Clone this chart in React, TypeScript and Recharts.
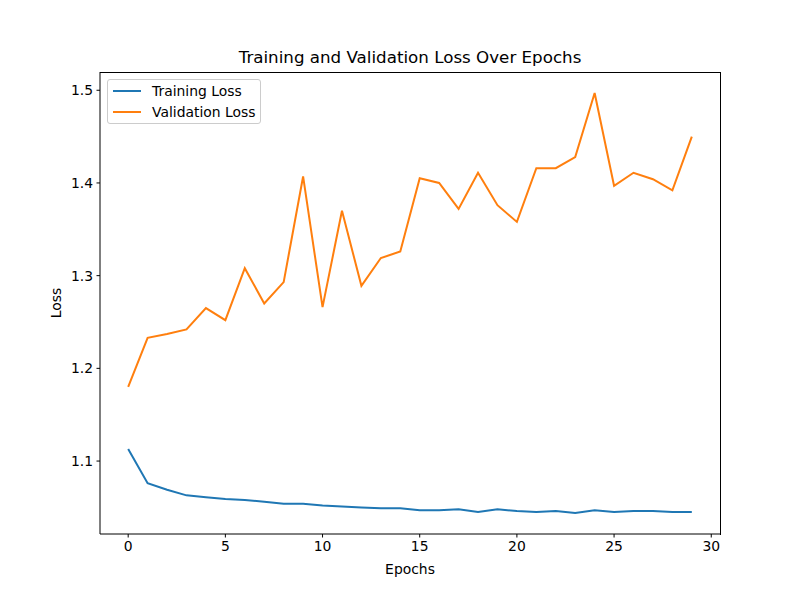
import { LineChart, Line, XAxis, YAxis } from 'recharts';

const epochs = Array.from({ length: 30 }, (_, i) => i);

const trainingLoss = [
  1.113, 1.076, 1.069, 1.063, 1.061, 1.059, 1.058, 1.056, 1.054, 1.054,
  1.052, 1.051, 1.050, 1.049, 1.049, 1.047, 1.047, 1.048, 1.045, 1.048,
  1.046, 1.045, 1.046, 1.044, 1.047, 1.045, 1.046, 1.046, 1.045, 1.045,
];

const validationLoss = [
  1.180, 1.233, 1.237, 1.242, 1.265, 1.252, 1.308, 1.270, 1.293, 1.407,
  1.266, 1.370, 1.289, 1.319, 1.326, 1.405, 1.400, 1.372, 1.411, 1.376,
  1.358, 1.416, 1.416, 1.428, 1.497, 1.397, 1.411, 1.404, 1.392, 1.450,
];

const xTicks = [0, 5, 10, 15, 20, 25, 30];
const yTicks = [1.1, 1.2, 1.3, 1.4, 1.5];

const data = epochs.map((e, i) => ({
  epoch: e,
  train: trainingLoss[i],
  val: validationLoss[i],
}));

const FONT = '"DejaVu Sans", sans-serif';
const tickStyle = { fill: '#000', fontSize: 13.9, fontFamily: FONT };

const legendItems = [
  { label: 'Training Loss', color: '#1f77b4' },
  { label: 'Validation Loss', color: '#ff7f0e' },
];

function LegendBox() {
  return (
    <div
      style={{
        position: 'absolute',
        left: 107,
        top: 79,
        border: '1px solid #cccccc',
        borderRadius: 3,
        background: 'rgba(255,255,255,0.8)',
        padding: '0px 5px 1px 5px',
        fontFamily: FONT,
        fontSize: 13.9,
        color: '#000',
      }}
    >
      {legendItems.map(it => (
        <div key={it.label} style={{ display: 'flex', alignItems: 'center', height: 21 }}>
          <span style={{ display: 'inline-block', width: 28, height: 2, background: it.color, marginRight: 11 }} />
          <span>{it.label}</span>
        </div>
      ))}
    </div>
  );
}

export default function App() {
  return (
    <div style={{ position: 'absolute', left: 0, top: 0, width: 800, height: 600, background: '#fff' }}>
      <LineChart
        width={800}
        height={600}
        data={data}
        margin={{ top: 72, right: 80, bottom: 36, left: 40 }}
      >
        <XAxis
          dataKey="epoch"
          type="number"
          domain={[-1.45, 30.45]}
          ticks={xTicks}
          allowDataOverflow
          height={30}
          tickSize={3.5}
          tickMargin={3.5}
          tick={tickStyle}
          tickLine={{ stroke: '#000' }}
          axisLine={{ stroke: '#000' }}
        />
        <YAxis
          type="number"
          domain={[1.0213, 1.5197]}
          ticks={yTicks}
          allowDataOverflow
          width={60}
          tickSize={3.5}
          tickMargin={3.5}
          tick={tickStyle}
          tickFormatter={(v: number) => v.toFixed(1)}
          tickLine={{ stroke: '#000' }}
          axisLine={{ stroke: '#000' }}
        />
        <Line
          dataKey="train"
          name="Training Loss"
          stroke="#1f77b4"
          strokeWidth={2}
          dot={false}
          activeDot={false}
          isAnimationActive={false}
        />
        <Line
          dataKey="val"
          name="Validation Loss"
          stroke="#ff7f0e"
          strokeWidth={2}
          dot={false}
          activeDot={false}
          isAnimationActive={false}
        />
      </LineChart>
      {/* top and right spines */}
      <div
        style={{
          position: 'absolute', left: 100, top: 71.5, width: 620, height: 462,
          borderTop: '1px solid #000', borderRight: '1px solid #000', pointerEvents: 'none',
        }}
      />
      <LegendBox />
      <div
        style={{
          position: 'absolute', left: 100, width: 620, top: 47, textAlign: 'center',
          fontFamily: FONT, fontSize: 16.7, lineHeight: '20px', color: '#000',
        }}
      >
        Training and Validation Loss Over Epochs
      </div>
      <div
        style={{
          position: 'absolute', left: 100, width: 620, top: 560, textAlign: 'center',
          fontFamily: FONT, fontSize: 13.9, lineHeight: '18px', color: '#000',
        }}
      >
        Epochs
      </div>
      <div
        style={{
          position: 'absolute', left: 56, top: 303, transform: 'translate(-50%, -50%) rotate(-90deg)',
          fontFamily: FONT, fontSize: 13.9, lineHeight: '18px', color: '#000', whiteSpace: 'nowrap',
        }}
      >
        Loss
      </div>
    </div>
  );
}
